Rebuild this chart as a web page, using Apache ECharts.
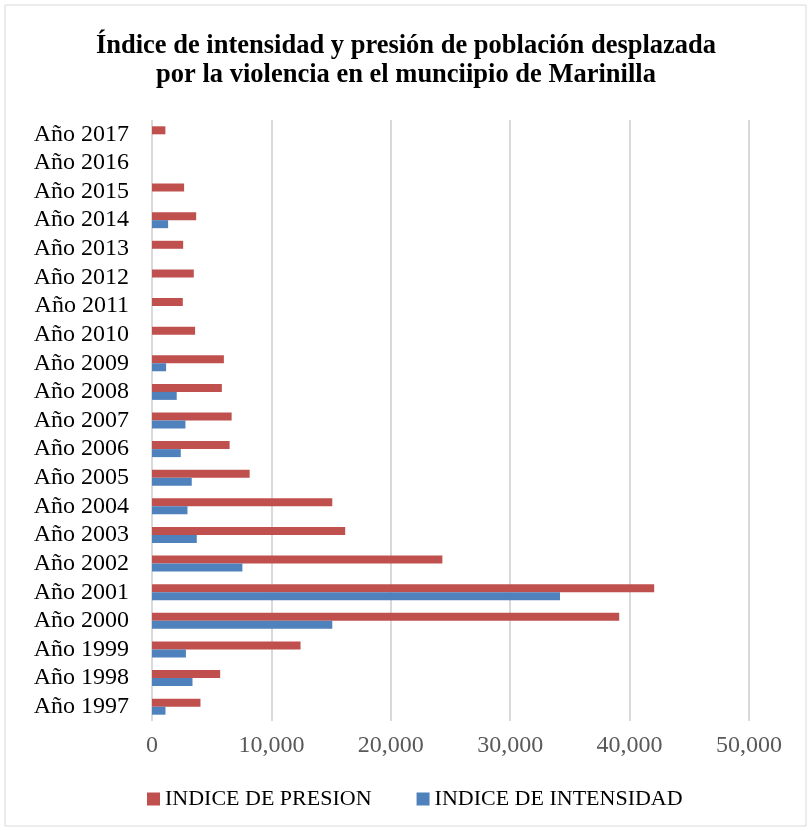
<!DOCTYPE html>
<html>
<head>
<meta charset="utf-8">
<script src="https://cdn.jsdelivr.net/npm/echarts@6/dist/echarts.min.js"></script>
<style>
  html, body { margin: 0; padding: 0; background: #fff; }
  #main { width: 812px; height: 831px; }
</style>
</head>
<body>
<div id="main"></div>
<script>
// años (de abajo hacia arriba)
var years = ["Año 1997", "Año 1998", "Año 1999", "Año 2000", "Año 2001", "Año 2002", "Año 2003",
  "Año 2004", "Año 2005", "Año 2006", "Año 2007", "Año 2008", "Año 2009", "Año 2010",
  "Año 2011", "Año 2012", "Año 2013", "Año 2014", "Año 2015", "Año 2016", "Año 2017"];
var presion = [4060, 5710, 12440, 39130, 42060, 24320, 16180, 15100, 8180, 6500, 6670,
  5850, 6020, 3610, 2580, 3500, 2610, 3700, 2690, 0, 1120];
var intensidad = [1130, 3390, 2840, 15100, 34170, 7570, 3750, 2970, 3330, 2410, 2800,
  2070, 1180, 0, 0, 0, 0, 1350, 0, 0, 0];
var xTicks = [0, 10000, 20000, 30000, 40000, 50000];

var serif = "'Liberation Serif', 'Times New Roman', serif";
var myChart = echarts.init(document.getElementById("main"));

myChart.setOption({
  animation: false,
  textStyle: { fontFamily: serif },
  title: {
    text: "Índice de intensidad y presión de población desplazada\npor la violencia en el munciipio de Marinilla",
    left: "center",
    top: 27,
    textStyle: { fontFamily: serif, fontWeight: "bold", fontSize: 26.5, lineHeight: 29, color: "#000" }
  },
  graphic: [{
    type: "rect",
    shape: { x: 5, y: 5, width: 801, height: 821 },
    style: { fill: null, stroke: "#d9d9d9", lineWidth: 1 },
    silent: true
  }],
  legend: {
    data: ["INDICE DE PRESION", "INDICE DE INTENSIDAD"],
    left: 142,
    top: 783,
    itemWidth: 13,
    itemHeight: 13,
    itemGap: 45,
    icon: "rect",
    textStyle: { fontFamily: serif, fontSize: 22, color: "#000" }
  },
  grid: { left: 152, right: 63, top: 120, bottom: 110, containLabel: false },
  xAxis: {
    type: "value",
    min: xTicks[0],
    max: xTicks[xTicks.length - 1],
    interval: 10000,
    axisLine: { show: false },
    axisTick: { show: false },
    splitLine: { show: true, lineStyle: { color: "#d9d9d9", width: 2 } },
    axisLabel: {
      margin: 13,
      fontFamily: serif,
      fontSize: 24,
      color: "#595959",
      formatter: function (v) { return v.toLocaleString("en-US"); }
    }
  },
  yAxis: {
    type: "category",
    data: years,
    axisLine: { show: false },
    axisTick: { show: false },
    axisLabel: { interval: 0, margin: 23, fontFamily: serif, fontSize: 24, color: "#000" }
  },
  series: [
    {
      name: "INDICE DE PRESION",
      type: "bar",
      data: presion,
      barWidth: 8,
      barGap: "0%",
      itemStyle: { color: "#C0504D" }
    },
    {
      name: "INDICE DE INTENSIDAD",
      type: "bar",
      data: intensidad,
      barWidth: 8,
      barGap: "0%",
      itemStyle: { color: "#4F81BD" }
    }
  ]
});
</script>
</body>
</html>
